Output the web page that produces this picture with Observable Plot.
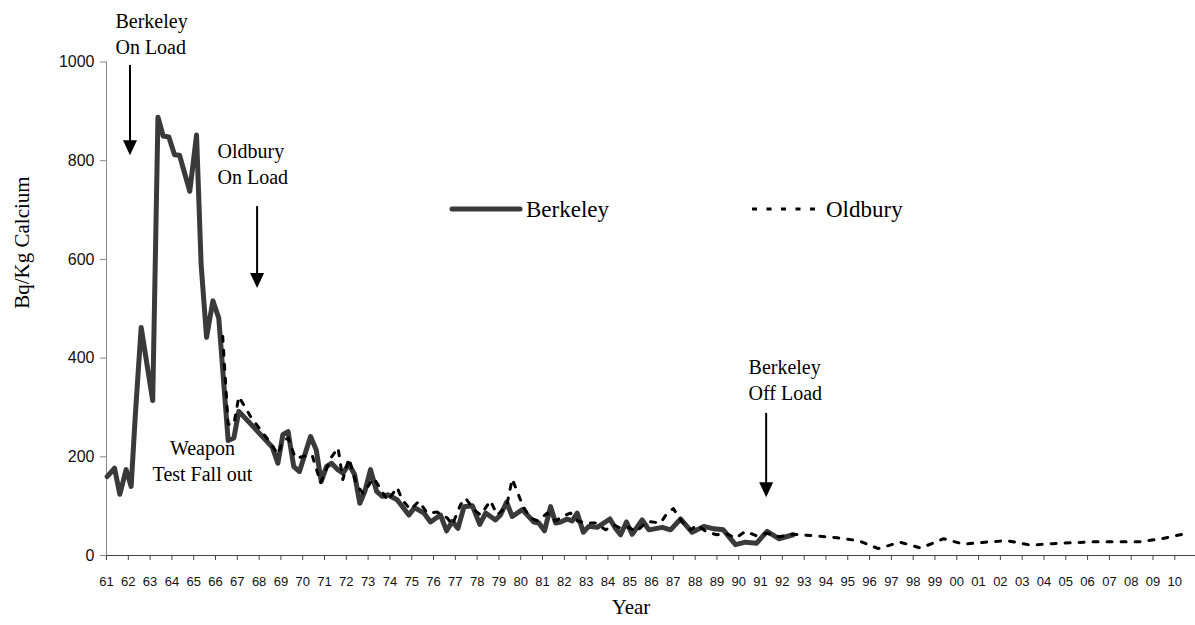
<!DOCTYPE html>
<html>
<head>
<meta charset="utf-8">
<script src="https://cdn.jsdelivr.net/npm/d3@7"></script>
<script src="https://cdn.jsdelivr.net/npm/@observablehq/plot@0.6"></script>
<style>
  html, body { margin: 0; padding: 0; background: #fff; }
  #chart { width: 1195px; height: 625px; }
</style>
</head>
<body>
<div id="chart"></div>
<script>
// Berkeley samples (decimal year, Bq/Kg calcium)
const berkeleyYear = [
  1961.03, 1961.37, 1961.61, 1961.90, 1962.13, 1962.33, 1962.59, 1963.12, 1963.36, 1963.60,
  1963.86, 1964.12, 1964.35, 1964.82, 1965.13, 1965.34, 1965.59, 1965.88, 1966.15, 1966.58,
  1966.84, 1967.07, 1968.60, 1968.86, 1969.09, 1969.33, 1969.59, 1969.85, 1970.36, 1970.62,
  1970.85, 1971.09, 1971.32, 1971.61, 1971.85, 1972.12, 1972.38, 1972.62, 1972.85, 1973.11,
  1973.39, 1973.65, 1973.90, 1974.33, 1974.87, 1975.13, 1975.56, 1975.86, 1976.32, 1976.60,
  1976.86, 1977.12, 1977.40, 1977.78, 1978.12, 1978.39, 1978.84, 1979.07, 1979.35, 1979.61,
  1980.07, 1980.60, 1980.83, 1981.09, 1981.37, 1981.60, 1981.83, 1982.13, 1982.36, 1982.59,
  1982.87, 1983.12, 1983.51, 1984.09, 1984.35, 1984.58, 1984.85, 1985.11, 1985.57, 1985.88,
  1986.49, 1986.87, 1987.33, 1987.86, 1988.40, 1988.86, 1989.29, 1989.85, 1990.31, 1990.82,
  1991.30, 1991.84, 1992.50
];
const berkeleyValue = [
  160, 177, 124, 174, 140, 290, 462, 314, 888, 850,
  848, 812, 811, 738, 852, 590, 442, 516, 481, 233,
  238, 292, 220, 187, 245, 251, 180, 170, 241, 214,
  150, 180, 187, 174, 167, 185, 164, 106, 130, 174,
  130, 120, 123, 113, 82, 97, 86, 68, 82, 50,
  69, 55, 99, 101, 63, 86, 72, 82, 108, 79,
  93, 68, 66, 50, 99, 66, 68, 74, 70, 86,
  47, 59, 57, 74, 55, 42, 68, 43, 72, 52,
  57, 52, 74, 47, 59, 54, 52, 22, 27, 25,
  49, 34, 42
];

// Oldbury samples (decimal year, Bq/Kg calcium)
const oldburyYear = [
  1966.33, 1966.58, 1966.84, 1967.07, 1967.60, 1968.06, 1968.52, 1968.86, 1969.09, 1969.33,
  1969.67, 1970.05, 1970.43, 1970.82, 1971.28, 1971.62, 1971.84, 1972.12, 1972.47, 1972.77,
  1973.26, 1973.90, 1974.33, 1974.56, 1974.94, 1975.33, 1975.71, 1976.17, 1976.63, 1976.86,
  1977.24, 1977.47, 1977.85, 1978.16, 1978.61, 1978.92, 1979.35, 1979.61, 1980.11, 1980.45,
  1980.80, 1981.21, 1981.60, 1981.90, 1982.28, 1982.60, 1982.97, 1983.43, 1983.89, 1984.27,
  1984.60, 1984.96, 1985.30, 1985.80, 1986.41, 1986.72, 1987.00, 1987.40, 1987.79, 1988.10,
  1988.48, 1988.98, 1989.40, 1989.85, 1990.31, 1990.80, 1991.30, 1991.84, 1992.45, 1993.50,
  1994.50, 1995.50, 1996.40, 1997.40, 1998.35, 1999.40, 2000.30, 2001.30, 2002.30, 2003.40,
  2004.40, 2005.40, 2006.40, 2007.40, 2008.40, 2009.40, 2010.45
];
const oldburyValue = [
  444, 266, 266, 322, 282, 255, 228, 205, 232, 238,
  197, 201, 204, 147, 197, 218, 154, 197, 143, 126,
  157, 111, 138, 113, 93, 110, 86, 88, 76, 62,
  103, 116, 93, 82, 111, 82, 100, 155, 99, 76,
  70, 86, 70, 79, 86, 70, 66, 66, 52, 62,
  55, 57, 48, 69, 66, 86, 95, 68, 52, 62,
  49, 42, 45, 35, 49, 40, 45, 38, 43, 40,
  36, 30, 14, 27, 15, 34, 23, 27, 30, 21,
  24, 26, 28, 28, 28, 34, 44
];

// Year tick labels, one per year from 1961 to 2010
const yearLabels = [
  "61","62","63","64","65","66","67","68","69","70",
  "71","72","73","74","75","76","77","78","79","80",
  "81","82","83","84","85","86","87","88","89","90",
  "91","92","93","94","95","96","97","98","99","00",
  "01","02","03","04","05","06","07","08","09","10"
];
const valueTicks = [0, 200, 400, 600, 800, 1000];

// Event notes and arrows (decimal year, value)
const noteText = ["Berkeley\nOn Load", "Oldbury\nOn Load", "Weapon\nTest Fall out", "Berkeley\nOff Load"];
const noteYear = [1961.41, 1966.09, 1965.40, 1990.45];
const noteValue = [1107, 843, 241, 405];
const noteAnchor = ["start", "start", "middle", "start"];

const arrowYear = [1962.10, 1967.93, 1991.28];
const arrowFrom = [993, 707, 288];
const arrowTo = [810, 541, 117];

const seriesNames = ["Berkeley", "Oldbury"];

const berkeley = berkeleyYear.map((x, i) => ({x, y: berkeleyValue[i]}));
const oldbury = oldburyYear.map((x, i) => ({x, y: oldburyValue[i]}));
const tickYears = yearLabels.map((_, i) => 1961 + i);
const notes = noteText.map((text, i) => ({text, x: noteYear[i], y: noteValue[i], anchor: noteAnchor[i]}));
const arrows = arrowYear.map((x, i) => ({x, from: arrowFrom[i], to: arrowTo[i]}));

const SERIF = "'Liberation Serif', 'Times New Roman', serif";
const SANS = "'Liberation Sans', Arial, sans-serif";
const berkeleyColor = "#3a3a3a";

// Arrows with filled triangular heads, placed through the plot scales
function arrowMarks(index, scales) {
  const g = d3.create("svg:g");
  for (const a of arrows) {
    const x = scales.x(a.x), y1 = scales.y(a.from), y2 = scales.y(a.to);
    g.append("line")
      .attr("x1", x).attr("x2", x).attr("y1", y1).attr("y2", y2 - 13)
      .attr("stroke", "#000").attr("stroke-width", 2);
    g.append("path")
      .attr("d", `M${x - 7},${y2 - 15}L${x + 7},${y2 - 15}L${x},${y2}Z`)
      .attr("fill", "#000");
  }
  return g.node();
}

const chart = Plot.plot({
  width: 1195,
  height: 625,
  marginLeft: 106,
  marginRight: 0,
  marginTop: 61.5,
  marginBottom: 70,
  style: {background: "#fff", fontFamily: SANS, color: "#000"},
  x: {domain: [1961, 2010.95]},
  y: {domain: [0, 1000]},
  marks: [
    // axis lines
    Plot.ruleX([1961], {y1: 0, y2: 1000, stroke: "#888", strokeWidth: 1}),
    Plot.ruleY([0], {stroke: "#444", strokeWidth: 1}),
    Plot.axisY({ticks: valueTicks, tickFormat: d => String(d), tickSize: 6, tickPadding: 6, fontSize: 16,
                stroke: "#888", fill: "#111", label: null}),
    Plot.axisX({ticks: tickYears, tickFormat: d => yearLabels[Math.round(d) - 1961],
                tickSize: 5, tickPadding: 16, fontSize: 13,
                stroke: "#444", fill: "#111", label: null}),
    // axis titles
    Plot.text(["Bq/Kg Calcium"], {frameAnchor: "left", dx: -84, rotate: -90,
      fontFamily: SERIF, fontSize: 21, fill: "#000"}),
    Plot.text(["Year"], {frameAnchor: "bottom", dx: -20, dy: 58,
      fontFamily: SERIF, fontSize: 21, fill: "#000"}),
    // series
    Plot.line(berkeley, {x: "x", y: "y", stroke: berkeleyColor, strokeWidth: 5,
      strokeLinejoin: "round", strokeLinecap: "round"}),
    Plot.line(oldbury, {x: "x", y: "y", stroke: "#000", strokeWidth: 3,
      strokeDasharray: "5,9"}),
    // notes
    Plot.text(notes.filter(d => d.anchor === "start"), {x: "x", y: "y", text: "text",
      textAnchor: "start", lineAnchor: "top", lineHeight: 1.3,
      fontFamily: SERIF, fontSize: 20, fill: "#000"}),
    Plot.text(notes.filter(d => d.anchor === "middle"), {x: "x", y: "y", text: "text",
      textAnchor: "middle", lineAnchor: "top", lineHeight: 1.3,
      fontFamily: SERIF, fontSize: 20, fill: "#000"}),
    arrowMarks
  ]
});

// Legend drawn inside the plot area
const svg = d3.select(chart);
const legend = svg.append("g")
  .attr("font-family", SERIF).attr("font-size", 23).attr("fill", "#000")
  .attr("text-anchor", "start");
legend.append("line").attr("x1", 452).attr("x2", 520).attr("y1", 209).attr("y2", 209)
  .attr("stroke", berkeleyColor).attr("stroke-width", 5).attr("stroke-linecap", "round");
legend.append("text").attr("x", 526).attr("y", 217).text(seriesNames[0]);
legend.append("line").attr("x1", 752).attr("x2", 816).attr("y1", 209).attr("y2", 209)
  .attr("stroke", "#000").attr("stroke-width", 3).attr("stroke-dasharray", "5,9.5");
legend.append("text").attr("x", 826).attr("y", 217).text(seriesNames[1]);

document.getElementById("chart").appendChild(chart);
</script>
</body>
</html>
